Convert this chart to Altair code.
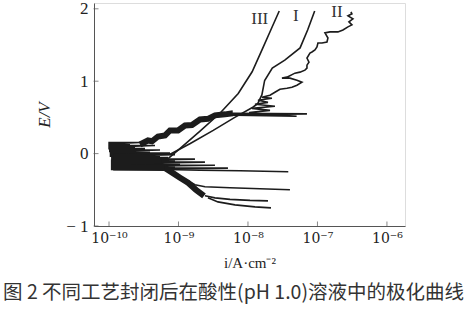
import altair as alt
import pandas as pd

# ---- data: (log10 i, E/V) ----
CURVE_III = [(-9.15, -0.07), (-8.98, 0.07), (-8.69, 0.31), (-8.40, 0.56), (-8.14, 0.83),
             (-7.94, 1.13), (-7.80, 1.43), (-7.67, 1.71), (-7.55, 1.97)]

CURVE_I = [(-9.12, -0.01), (-8.83, 0.14), (-8.50, 0.32), (-8.19, 0.50), (-7.93, 0.64),
           (-7.86, 0.69), (-7.80, 0.81), (-7.76, 1.01), (-7.65, 1.18), (-7.47, 1.29),
           (-7.25, 1.46), (-7.14, 1.71), (-7.04, 1.97)]

# thick noisy ribbon of curve II leaving the corrosion region
CURVE_II_BAND = [(-9.554, 0.125), (-9.439, 0.181), (-9.381, 0.170), (-9.295, 0.236),
                 (-9.194, 0.250), (-9.122, 0.319), (-9.007, 0.320), (-8.906, 0.389),
                 (-8.806, 0.395), (-8.691, 0.472), (-8.576, 0.480), (-8.475, 0.528),
                 (-8.331, 0.542), (-8.216, 0.556)]
CURVE_II_SPIKES = [(-8.216, 0.556), (-7.151, 0.548), (-8.40, 0.535), (-7.30, 0.515),
                   (-7.97, 0.560)]
CURVE_II_KNOT = [(-7.971, 0.569), (-7.683, 0.597), (-7.942, 0.625), (-7.612, 0.653),
                 (-7.899, 0.681), (-7.712, 0.708), (-7.856, 0.736), (-7.655, 0.764),
                 (-7.799, 0.778)]
CURVE_II_TOP = [(-7.683, 0.806), (-7.612, 0.847), (-7.540, 0.889), (-7.439, 0.903),
                (-7.367, 0.917), (-7.295, 0.944), (-7.223, 0.986), (-7.295, 1.014),
                (-7.396, 1.042), (-7.511, 1.042), (-7.439, 1.056), (-7.324, 1.111),
                (-7.252, 1.125), (-7.180, 1.153), (-7.151, 1.181), (-7.151, 1.222),
                (-7.122, 1.264), (-7.151, 1.319), (-7.108, 1.389), (-7.079, 1.403),
                (-7.036, 1.431), (-7.007, 1.472), (-6.993, 1.528), (-6.935, 1.528),
                (-6.863, 1.542), (-6.849, 1.597), (-6.892, 1.667), (-6.820, 1.681),
                (-6.705, 1.681), (-6.633, 1.708), (-6.561, 1.750), (-6.504, 1.778),
                (-6.547, 1.819), (-6.489, 1.861), (-6.561, 1.903), (-6.504, 1.931),
                (-6.518, 1.958)]

# noisy region near the corrosion potential
CLUSTER = [(-10.01, 0.153), (-9.554, 0.153), (-10.01, 0.132), (-9.698, 0.132),
           (-10.01, 0.111), (-9.338, 0.111), (-10.01, 0.090), (-9.626, 0.090),
           (-10.01, 0.069), (-9.482, 0.069), (-10.00, 0.049), (-9.266, 0.049),
           (-10.00, 0.028), (-9.410, 0.028), (-9.99, 0.007), (-9.122, 0.007),
           (-9.99, -0.014), (-9.050, -0.014), (-9.99, -0.035), (-9.266, -0.035),
           (-9.97, -0.056), (-9.151, -0.056), (-9.97, -0.076), (-8.763, -0.076),
           (-9.96, -0.097), (-9.050, -0.097), (-9.95, -0.118), (-8.619, -0.118),
           (-9.95, -0.139), (-8.978, -0.139), (-9.94, -0.160), (-8.475, -0.160),
           (-9.94, -0.181), (-9.050, -0.181), (-9.94, -0.201), (-8.288, -0.201),
           (-9.94, -0.222), (-9.122, -0.222)]
CLUSTER_CORE = [(-9.93, -0.04), (-9.40, -0.05), (-9.25, -0.10), (-9.93, -0.12),
                (-9.93, -0.19), (-9.20, -0.20)]

CATHODIC_T1 = [(-9.19, -0.22), (-8.69, -0.23), (-8.115, -0.236), (-7.42, -0.25)]
CATHODIC_BAND = [(-9.295, -0.139), (-9.180, -0.208), (-9.079, -0.270), (-8.978, -0.333),
                 (-8.863, -0.403), (-8.748, -0.500), (-8.633, -0.583)]
CATHODIC_T2 = [(-8.863, -0.375), (-8.763, -0.431), (-8.619, -0.458), (-8.259, -0.472),
               (-7.827, -0.486), (-7.396, -0.500)]
CATHODIC_T3 = [(-8.619, -0.583), (-8.475, -0.611), (-8.259, -0.632), (-7.971, -0.646),
               (-7.712, -0.653)]
CATHODIC_T4 = [(-8.576, -0.611), (-8.432, -0.667), (-8.187, -0.708), (-7.899, -0.736),
               (-7.669, -0.750)]

CURVE_LABELS = ["III", "I", "II"]
CURVE_LABEL_LOG = [-7.83, -7.31, -6.72]
CURVE_LABEL_E = [1.86, 1.90, 1.95]

X_TICKS = [-10, -9, -8, -7, -6]
X_TICK_LABELS = ["10⁻¹⁰", "10⁻⁹", "10⁻⁸", "10⁻⁷", "10⁻⁶"]
Y_TICKS = [-1, 0, 1, 2]

X_TITLE = "i/A·cm⁻²"
Y_TITLE = "E/V"
CAPTION = "图 2  不同工艺封闭后在酸性(pH  1.0)溶液中的极化曲线"

# ---- build tables ----
thin_series = {
    "III": CURVE_III,
    "I": CURVE_I,
    "II": CURVE_II_SPIKES + CURVE_II_KNOT + CURVE_II_TOP,
    "cluster": CLUSTER,
    "t1": CATHODIC_T1,
    "t2": CATHODIC_T2,
    "t3": CATHODIC_T3,
    "t4": CATHODIC_T4,
}
thick_series = {
    "IIband": CURVE_II_BAND,
    "cband": CATHODIC_BAND,
    "core": CLUSTER_CORE,
}


def table(d):
    rows = []
    for name, pts in d.items():
        for k, (lx, e) in enumerate(pts):
            rows.append({"series": name, "idx": k, "logi": lx, "E": e})
    return pd.DataFrame(rows)


thin_df = table(thin_series)
thick_df = table(thick_series)
lab_df = pd.DataFrame({"text": CURVE_LABELS, "logi": CURVE_LABEL_LOG, "E": CURVE_LABEL_E})

expr = ""
for v, t in zip(X_TICKS, X_TICK_LABELS):
    expr += f"datum.value == {v} ? '{t}' : "
expr += "datum.label"

AXIS_COLOR = "#555555"
INK = "#1c1c1c"
SERIF = "DejaVu Serif"

x_enc = alt.X(
    "logi:Q",
    scale=alt.Scale(domain=[-10.216, -5.74], nice=False, zero=False),
    axis=alt.Axis(values=X_TICKS, labelExpr=expr, title=X_TITLE, grid=False,
                  ticks=False, domainColor=AXIS_COLOR, labelFont=SERIF,
                  labelFontSize=14, labelColor="#222", labelPadding=5,
                  titleFont="Liberation Serif", titleFontSize=15, titleFontWeight="normal",
                  titleColor="#222", titlePadding=10),
)
y_enc = alt.Y(
    "E:Q",
    scale=alt.Scale(domain=[-1, 2.08], nice=False, zero=False),
    axis=alt.Axis(values=Y_TICKS, title=Y_TITLE, grid=False, ticks=False,
                  labelExpr="datum.value < 0 ? '− ' + (-datum.value) : '' + datum.value",
                  domainColor=AXIS_COLOR, labelFont="Liberation Serif", labelFontSize=17,
                  labelColor="#222", labelPadding=6,
                  titleFont="Liberation Serif", titleFontSize=17, titleFontStyle="italic",
                  titleFontWeight="normal", titleColor="#222", titlePadding=12),
)

thin = alt.Chart(thin_df).mark_line(color=INK, strokeWidth=1.6).encode(
    x=x_enc, y=y_enc, detail="series:N", order="idx:Q"
)
thick = alt.Chart(thick_df).mark_line(color=INK, strokeWidth=6).encode(
    x="logi:Q", y="E:Q", detail="series:N", order="idx:Q"
)

labels = alt.Chart(lab_df).mark_text(font="Liberation Serif", fontSize=17, color="#333",
                                     baseline="middle", align="center").encode(
    x="logi:Q", y="E:Q", text="text:N"
)

ytick_df = pd.DataFrame({"E": Y_TICKS})
yticks = alt.Chart(ytick_df).mark_tick(orient="horizontal", size=5, thickness=1,
                                       color=AXIS_COLOR).encode(
    y="E:Q", x=alt.value(2)
)
xtick_df = pd.DataFrame({"logi": X_TICKS})
xticks = alt.Chart(xtick_df).mark_tick(orient="vertical", size=5, thickness=1,
                                       color=AXIS_COLOR).encode(
    x="logi:Q", y=alt.value(221)
)

chart = alt.layer(thin, thick, labels, yticks, xticks).properties(
    width=311,
    height=223,
    autosize=alt.AutoSizeParams(type="none"),
    padding={"left": 94, "top": 3, "right": 63, "bottom": 85},
    title=alt.TitleParams(CAPTION, orient="bottom", anchor="middle", frame="group",
                          font="Noto Sans CJK SC", fontSize=19.5, fontWeight="normal",
                          color="#333", offset=14, dx=-16),
).configure_view(stroke=None).configure(background="white")

chart.save("out.html", embed_options={"renderer": "svg", "actions": False})
